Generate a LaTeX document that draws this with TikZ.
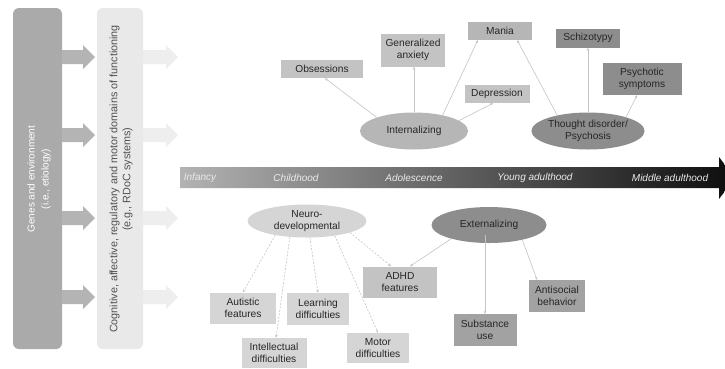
\documentclass[tikz,border=0pt]{standalone}
\usepackage{fontspec}
\setmainfont{Liberation Sans}
\usetikzlibrary{shapes.geometric,arrows.meta,calc}
\definecolor{cDarkBar}{HTML}{AAAAAA}
\definecolor{cLightBar}{HTML}{E9E9E9}
\definecolor{cDarkArr}{HTML}{B4B4B4}
\definecolor{cLightArr}{HTML}{EEEEEE}
\definecolor{cLine}{HTML}{C4C4C4}
\definecolor{cLt}{HTML}{D5D5D5}
\definecolor{cMid}{HTML}{C3C3C3}
\definecolor{cMid2}{HTML}{B6B6B6}
\definecolor{cDk}{HTML}{8D8D8D}
\definecolor{cDk2}{HTML}{A2A2A2}
\definecolor{cTxt}{HTML}{262626}
\tikzset{
  box/.style={rectangle, inner sep=1pt, align=center, text=cTxt,
    font=\fontsize{10.2}{12}\selectfont},
  oval/.style={ellipse, inner sep=0pt, align=center, text=cTxt,
    font=\fontsize{10.2}{12}\selectfont},
  conn/.style={draw=cLine, line width=0.6pt, -{Stealth[length=3pt,width=2.6pt]}},
  dconn/.style={conn, dash pattern=on 2pt off 1.5pt},
  agelabel/.style={font=\fontsize{10}{12}\selectfont\itshape, text=white!92!black}
}
\begin{document}
\begin{tikzpicture}[x=1pt,y=-1pt]
\useasboundingbox (0,0) rectangle (725,368);
\clip (0,0) rectangle (725,368);
\fill[white] (0,0) rectangle (725,368);

% left bars
\fill[cDarkBar, rounded corners=6pt] (13,8) rectangle (62,349);
\fill[cLightBar, rounded corners=6pt] (97,8) rectangle (143,349);
\node[rotate=90, align=center, text=white, font=\fontsize{10}{14}\selectfont] (genes) at (39,179)
  {Genes and environment\\(i.e., etiology)};
\node[rotate=90, align=center, text=cTxt!80, font=\fontsize{10.8}{13}\selectfont] (cog) at (121,179)
  {Cognitive, affective, regulatory and motor domains of functioning\\(e.g., RDoC systems)};

% block arrows
\foreach \yy in {57,135,218,297}{
  \fill[cDarkArr] (62,\yy-7) -- (83,\yy-7) -- (83,\yy-12) -- (95,\yy) -- (83,\yy+12) -- (83,\yy+7) -- (62,\yy+7) -- cycle;
  \fill[cLightArr] (143,\yy-7) -- (166,\yy-7) -- (166,\yy-12) -- (178,\yy) -- (166,\yy+12) -- (166,\yy+7) -- (143,\yy+7) -- cycle;
}

% timeline
\shade[left color=black!30, right color=black!95]
  (180,167) -- (719,167) -- (719,157) -- (735,178) -- (719,199) -- (719,188) -- (180,188) -- cycle;
\node[agelabel] (inf) at (200,178) {Infancy};
\node[agelabel] (chi) at (296,178) {Childhood};
\node[agelabel] (ado) at (414,178) {Adolescence};
\node[agelabel] (yad) at (535,178) {Young adulthood};
\node[agelabel] (mad) at (670,178) {Middle adulthood};

% upper nodes
\node[box, fill=cMid, minimum width=82, minimum height=18] (obs) at (322,69) {Obsessions};
\node[box, fill=cMid, minimum width=64, minimum height=33] (gad) at (413,50) {Generalized\\anxiety};
\node[box, fill=cMid2, minimum width=64, minimum height=18] (mania) at (500,31) {Mania};
\node[box, fill=cMid, minimum width=65, minimum height=18] (dep) at (497,94) {Depression};
\node[box, fill=cDk, minimum width=64, minimum height=19] (schizo) at (588,38) {Schizotypy};
\node[box, fill=cDk, minimum width=79, minimum height=32] (psy) at (642,79) {Psychotic\\symptoms};
\node[oval, fill=cMid2, minimum width=108, minimum height=37] (intern) at (414,131) {Internalizing};
\node[oval, fill=cDk, minimum width=105, minimum height=37] (thought) at (588,131) {Thought disorder/\\Psychosis};

% lower nodes
\node[oval, fill=cLt, minimum width=119, minimum height=33] (neuro) at (307,221) {Neuro-\\developmental};
\node[oval, fill=cDk, minimum width=115, minimum height=36] (ext) at (489,225) {Externalizing};
\node[box, fill=cMid, minimum width=74, minimum height=31] (adhd) at (400,282) {ADHD\\features};
\node[box, fill=cLt, minimum width=66, minimum height=31] (aut) at (243,308) {Autistic\\features};
\node[box, fill=cLt, minimum width=62, minimum height=32] (learn) at (318,309) {Learning\\difficulties};
\node[box, fill=cLt, minimum width=65, minimum height=30] (intel) at (274,353) {Intellectual\\difficulties};
\node[box, fill=cLt, minimum width=62, minimum height=30] (motor) at (378,348) {Motor\\difficulties};
\node[box, fill=cDk2, minimum width=63, minimum height=32] (subst) at (485,330) {Substance\\use};
\node[box, fill=cDk2, minimum width=56, minimum height=32] (anti) at (557,296) {Antisocial\\behavior};

% upper connectors
\draw[conn] (intern.160) -- ($(obs.south)+(3,0)$);
\draw[conn] (intern.north) -- (intern.north |- gad.south);
\draw[conn] (intern.29) -- ($(mania.south west)+(10,0)$);
\draw[conn] (intern.13) -- ($(dep.south)+(-4,0)$);
\draw[conn] (thought.153) -- ($(mania.south east)+(-15,0)$);
\draw[conn] (thought.north) -- (thought.north |- schizo.south);
\draw[conn] (thought.20) -- ($(psy.south)+(-5,0)$);

% lower connectors
\draw[dconn] (neuro.204) -- (aut.north);
\draw[dconn] (neuro.223) -- ($(intel.north)+(2,0)$);
\draw[dconn] (neuro.280) -- (learn.north);
\draw[dconn] (neuro.332) -- (motor.north);
\draw[dconn] (neuro.345) -- ($(adhd.north)+(-9,0)$);
\draw[conn] (ext.200) -- ($(adhd.north)+(10,0)$);
\draw[conn] ($(subst.north)+(0,-79)$) -- (subst.north);
\draw[conn] (ext.336) -- ($(anti.north)+(-20,0)$);
\end{tikzpicture}
\end{document}
